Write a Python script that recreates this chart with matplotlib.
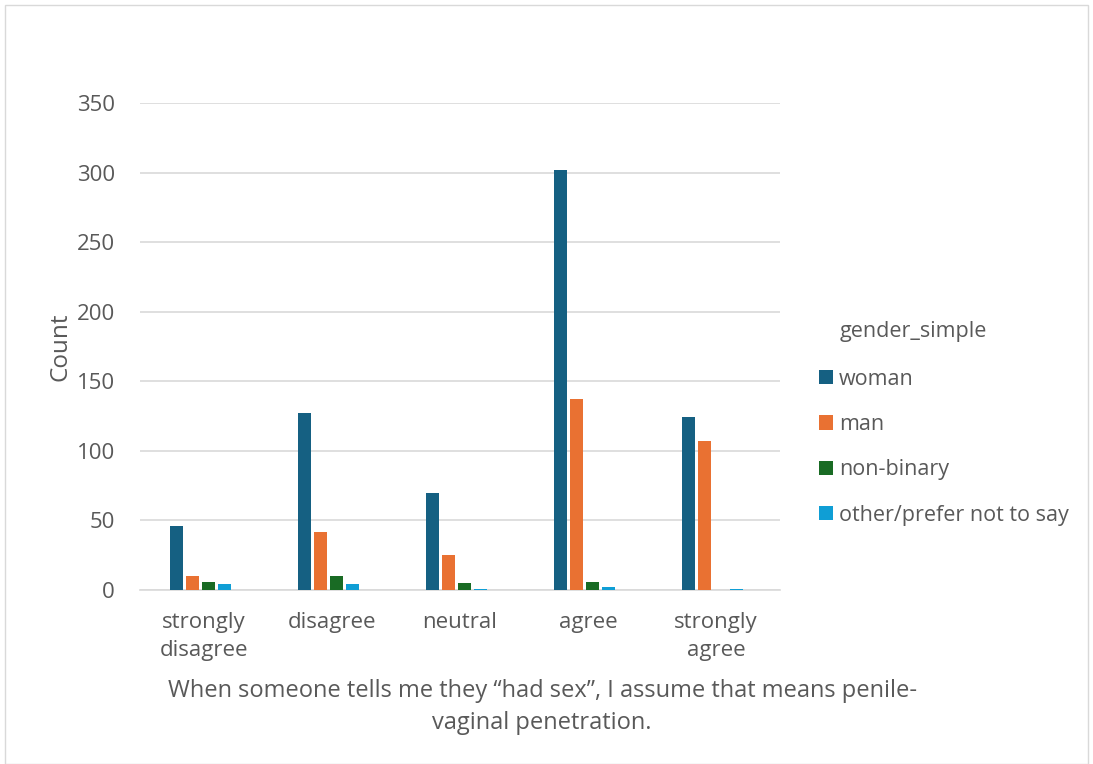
import matplotlib.pyplot as plt
from matplotlib.patches import Rectangle
import numpy as np

# Response counts by answer category and gender
categories = ["strongly\ndisagree", "disagree", "neutral", "agree", "strongly\nagree"]
genders = ["woman", "man", "non-binary", "other/prefer not to say"]
woman = [46, 127, 70, 302, 124]
man = [10, 42, 25, 137, 107]
non_binary = [6, 10, 5, 6, 0]
other = [4, 4, 1, 2, 1]

colors = ["#156082", "#E97132", "#196B24", "#0F9ED5"]
text_color = "#595959"

plt.rcParams['font.family'] = ['Open Sans', 'DejaVu Sans']

fig = plt.figure(figsize=(10.93, 7.64), dpi=100)
ax = fig.add_axes([140 / 1093, 1 - 590 / 764, 640 / 1093, 487 / 764])

x = np.arange(len(categories))
width = 0.1
step = 0.125
series = [woman, man, non_binary, other]
for i, (vals, label, c) in enumerate(zip(series, genders, colors)):
    offset = (i - 1.5) * step - 0.03
    ax.bar(x + offset, vals, width, color=c, label=label, zorder=3)

ax.set_xlim(-0.5, len(categories) - 0.5)
ax.set_ylim(0, 350)
ax.set_yticks(range(0, 351, 50))
ax.grid(axis='y', color='#D9D9D9', linewidth=1.2, zorder=0)
for s in ['top', 'right', 'left']:
    ax.spines[s].set_visible(False)
ax.spines['bottom'].set_color('#D9D9D9')
ax.spines['bottom'].set_linewidth(1.2)
ax.tick_params(axis='both', length=0, labelsize=16, colors=text_color)
ax.tick_params(axis='y', pad=18)
ax.tick_params(axis='x', pad=16)
ax.set_xticks(x)
ax.set_xticklabels(categories, linespacing=1.45)

ax.set_ylabel("Count", fontsize=17.5, color=text_color, labelpad=3)

fig.text(0.496, 1 - 707 / 764,
         "When someone tells me they \u201chad sex\u201d, I assume that means penile-\nvaginal penetration.",
         ha='center', va='center', fontsize=17, color=text_color, linespacing=1.45)

# legend title sits in line with the entry labels
fig.text(840 / 1093, 1 - 331 / 764, "gender_simple", ha='left', va='center',
         fontsize=15.5, color=text_color)
leg = ax.legend(loc='upper left', bbox_to_anchor=(1.047, 0.472), frameon=False,
                fontsize=15.5, handlelength=0.65, handleheight=0.65,
                handletextpad=0.3, labelspacing=1.13, borderaxespad=0)
for t in leg.get_texts():
    t.set_color(text_color)

# light chart-area border
fig.patches.append(Rectangle((5 / 1093, 0), 1 - 10 / 1093, 1 - 5 / 764,
                             transform=fig.transFigure, fill=False,
                             edgecolor='#D9D9D9', linewidth=1))

fig.savefig("out.png", dpi=100)
